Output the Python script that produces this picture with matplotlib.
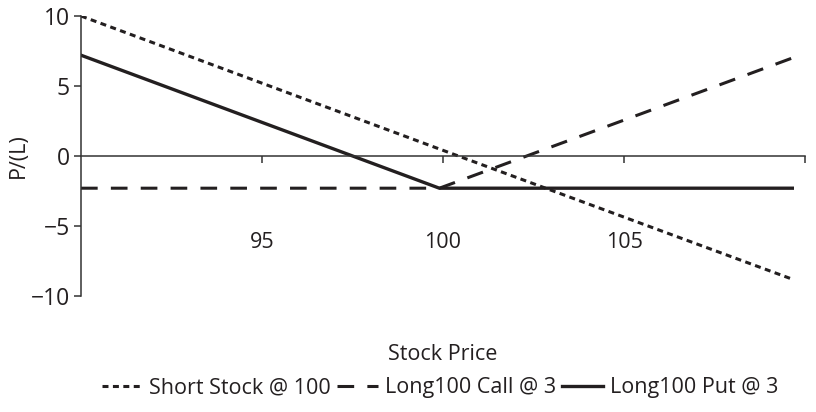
import matplotlib
matplotlib.use("Agg")
import matplotlib.pyplot as plt

# ---- data ----
stock_price = [90.0, 99.9, 109.65]
short_stock = [10.0, 0.5, -8.8]
long_call = [-2.3, -2.3, 7.0]
long_put = [7.2, -2.3, -2.3]
series_labels = ["Short Stock @ 100", "Long100 Call @ 3", "Long100 Put @ 3"]
x_ticks = [95, 100, 105, 110]
x_tick_labels = ["95", "100", "105", ""]
y_ticks = [-10, -5, 0, 5, 10]
y_tick_labels = ["\u221210", "\u22125", "0", "5", "10"]

plt.rcParams['font.family'] = ['Open Sans', 'DejaVu Sans']
plt.rcParams['lines.scale_dashes'] = False

ink = "#231f20"
fs = 15.5
fig = plt.figure(figsize=(8.16, 4.12), dpi=100)
ax = fig.add_axes([81/816, 1-296/412, (805-81)/816, (296-16)/412])

l1, = ax.plot(stock_price, short_stock, color=ink, lw=2.2,
              linestyle=(0, (4.3, 3.2)), dash_capstyle='butt', label=series_labels[0])
l2, = ax.plot(stock_price, long_call, color=ink, lw=2.2,
              linestyle=(0, (12, 9.5)), dash_capstyle='butt', label=series_labels[1])
l3, = ax.plot(stock_price, long_put, color=ink, lw=2.4,
              linestyle='-', label=series_labels[2])

ax.set_xlim(90, 110)
ax.set_ylim(-10, 10)

for s in ['top', 'right']:
    ax.spines[s].set_visible(False)
ax.spines['bottom'].set_position(('data', 0))
for s in ['left', 'bottom']:
    ax.spines[s].set_color('#333333')
    ax.spines[s].set_linewidth(1.1)

ax.set_xticks(x_ticks)
ax.set_xticklabels(x_tick_labels)
ax.set_yticks(y_ticks)
ax.set_yticklabels(y_tick_labels)
ax.tick_params(axis='x', direction='out', length=5, width=1.1, color='#333333',
               pad=50, labelsize=fs, labelcolor=ink)
ax.tick_params(axis='y', direction='out', length=5, width=1.1, color='#333333',
               pad=3, labelsize=fs + 1, labelcolor=ink)

ax.set_ylabel("P/(L)", fontsize=fs, color=ink, labelpad=1)
fig.text(443/816, 1-354/412, "Stock Price", ha='center', va='center',
         fontsize=fs, color=ink)

fig.legend(handles=[l1, l2, l3], loc='center', bbox_to_anchor=(440/816, 1-388/412),
           ncol=3, frameon=False, fontsize=fs, handlelength=1.9,
           handletextpad=0.3, columnspacing=0.3, labelcolor=ink,
           borderpad=0, borderaxespad=0)

fig.savefig("out.png", dpi=100)
